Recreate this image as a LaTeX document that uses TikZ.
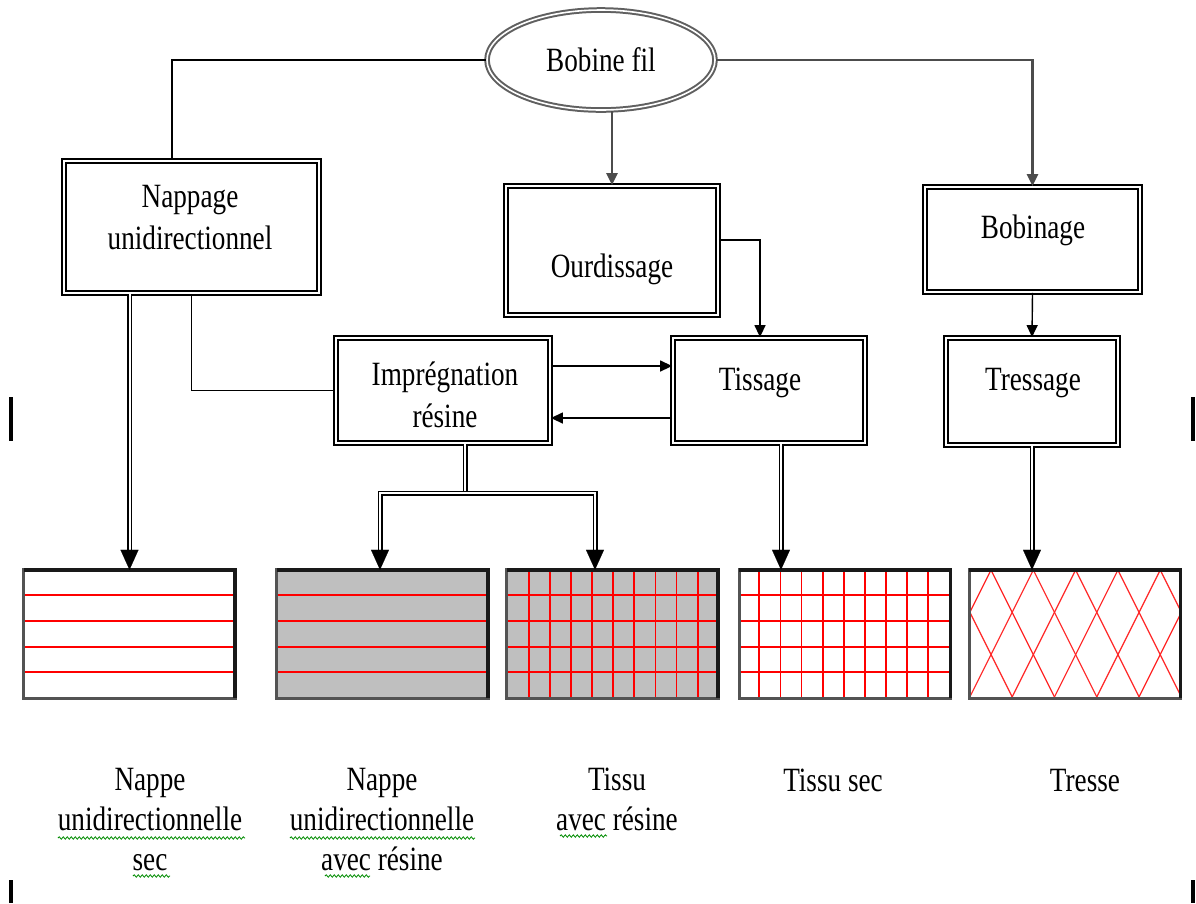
\documentclass[tikz,border=0pt]{standalone}
\usepackage{fontspec}
\setmainfont{Liberation Serif}[FakeStretch=0.8]
\usetikzlibrary{arrows.meta,shapes.geometric,decorations.pathmorphing}
\begin{document}
\begin{tikzpicture}[x=1pt,y=-1pt,
  txt/.style={font=\fontsize{34}{42}\selectfont, inner sep=0pt, align=center},
  lbl/.style={font=\fontsize{34}{40}\selectfont, inner sep=0pt, align=center},
  procbox/.style={rectangle, draw=black, line width=1.8pt, double=white, double distance=1.8pt, inner sep=0pt},
  ovalbox/.style={ellipse, draw=gray!75!black, line width=2pt, double=white, double distance=1.6pt, inner sep=0pt},
  patbox/.style={rectangle, inner sep=0pt, minimum width=211pt, minimum height=128pt},
  patedge/.style={line width=3pt, gray!65!black},
  patedgedark/.style={line width=3.5pt, black!90},
  redline/.style={red, line width=1.8pt},
  braid/.style={red!85, line width=1.2pt},
  thinline/.style={line width=1.4pt, black},
  sarrow/.style={line width=1.4pt, black, -{Triangle[length=12pt,width=11pt]}},
  grayarrow/.style={line width=2.4pt, gray!60!black, -{Triangle[length=12pt,width=11pt]}},
  dbl/.style={line width=1.5pt, black, double=white, double distance=2pt},
  dblarrow/.style={dbl, -{Triangle[length=20pt,width=18pt,line width=0.1pt]}},
  dblarrows/.style={dbl, {Triangle[length=20pt,width=18pt,line width=0.1pt]}-{Triangle[length=20pt,width=18pt,line width=0.1pt]}},
  squiggle/.style={green!55!black, line width=0.8pt, decorate, decoration={snake, segment length=4pt, amplitude=1.2pt}},
  edgemark/.style={line width=4pt, black}
]
\useasboundingbox (0,0) rectangle (1196,903);
\fill[white] (0,0) rectangle (1196,903);

% ---------- process nodes ----------
\node[ovalbox, minimum width=228pt, minimum height=100pt] (bob) at (601,60) {};
\node[txt, anchor=base] (bobt) at (601,71) {Bobine fil};

\node[procbox, minimum width=255pt, minimum height=132pt] (nap) at (191.5,227) {};
\node[txt, anchor=north] (napt) at (190,185) {Nappage\\unidirectionnel};

\node[procbox, minimum width=212pt, minimum height=129pt] (ourd) at (612,250.5) {};
\node[txt, anchor=base] (ourdt) at (612,277) {Ourdissage};

\node[procbox, minimum width=214pt, minimum height=105pt] (impr) at (443,390.5) {};
\node[txt, anchor=north] (imprt) at (445,362) {Imprégnation\\résine};

\node[procbox, minimum width=192pt, minimum height=105pt] (tiss) at (769,390.5) {};
\node[txt, anchor=base] (tisst) at (760,390) {Tissage};

\node[procbox, minimum width=215pt, minimum height=105pt] (bobn) at (1032.5,239.5) {};
\node[txt, anchor=base] (bobnt) at (1033,238) {Bobinage};

\node[procbox, minimum width=172pt, minimum height=107pt] (tres) at (1032,391.5) {};
\node[txt, anchor=base] (trest) at (1033,390) {Tressage};

% ---------- product samples ----------
\node[patbox, fill=white] (p1) at (129.5,634) {};
\node[patbox, fill=black!25] (p2) at (382.5,634) {};
\node[patbox, fill=black!25] (p3) at (612.5,634) {};
\node[patbox, fill=white] (p4) at (845,634) {};
\node[patbox, fill=white] (p5) at (1075,634) {};

\foreach \p in {p1,p2,p3,p4}{
  \foreach \yy in {25,51,77,102}{
    \draw[redline] ([yshift=-\yy pt]\p.north west) -- ([yshift=-\yy pt]\p.north east);
  }
}
\foreach \k in {1,...,9}{
  \draw[redline] ([xshift={22pt+(\k-1)*21.1pt}]p3.north west) -- ([xshift={22pt+(\k-1)*21.1pt}]p3.south west);
  \draw[redline] ([xshift={20pt+(\k-1)*21.1pt}]p4.north west) -- ([xshift={20pt+(\k-1)*21.1pt}]p4.south west);
}
\begin{scope}
  \clip (p5.north west) rectangle (p5.south east);
  \foreach \k in {-3,...,6}{
    \draw[braid] (991+42.3*\k,570) -- ++(64,128);
    \draw[braid] (991+42.3*\k,570) -- ++(-64,128);
  }
\end{scope}

\foreach \p in {p1,p2,p3,p4,p5}{
  \draw[patedge] (\p.north west) rectangle (\p.south east);
  \draw[patedgedark] (\p.north west) -- (\p.north east) -- (\p.south east);
}

% ---------- connectors ----------
\coordinate (split) at (465,493);
\coordinate (sl) at (380,493);
\coordinate (sr) at (595,493);

\draw[thinline] (bob.west) -| ([xshift=-19.5pt]nap.north);
\draw[grayarrow] (bob.east) -| (bobn.north);
\draw[grayarrow] (ourd.north |- bob.south) -- (ourd.north);
\draw[dblarrow] (p1.north |- nap.south) -- (p1.north);
\draw[thinline] (nap.south) |- (impr.west);
\draw[sarrow] ([yshift=10.5pt]ourd.east) -| ([xshift=-9pt]tiss.north);
\draw[sarrow] ([yshift=24.5pt]impr.east) -- ([yshift=24.5pt]tiss.west);
\draw[sarrow] ([yshift=-27.5pt]tiss.west) -- ([yshift=-27.5pt]impr.east);
\draw[dbl] (impr.south -| split) -- (split);
\draw[dblarrows] (p2.north -| sl) -- (sl) -- (sr) -- (p3.north -| sr);
\draw[dblarrow] ([xshift=12pt]tiss.south) -- ([xshift=12pt]tiss.south |- p4.north);
\draw[sarrow] (bobn.south) -- (tres.north);
\draw[dblarrow] (tres.south) -- (tres.south |- p5.north);

% ---------- labels ----------
\node[lbl, anchor=north] (l1) at (150,768) {Nappe\\unidirectionnelle\\sec};
\node[lbl, anchor=north] (l2) at (382,768) {Nappe\\unidirectionnelle\\avec résine};
\node[lbl, anchor=north] (l3) at (617,768) {Tissu\\avec résine};
\node[lbl, anchor=base] (l4) at (833,791) {Tissu sec};
\node[lbl, anchor=base] (l5) at (1085,791) {Tresse};

% spell-check underlines
\draw[squiggle] (58,838) -- (245,838);
\draw[squiggle] (133,876) -- (170,876);
\draw[squiggle] (290,838) -- (475,838);
\draw[squiggle] (325,876) -- (370,876);
\draw[squiggle] (560,836) -- (607,836);

% page edge marks
\draw[edgemark] (11,397) -- (11,441);
\draw[edgemark] (11,880) -- (11,903);
\draw[edgemark] (1193,397) -- (1193,441);
\draw[edgemark] (1193,880) -- (1193,903);
\end{tikzpicture}
\end{document}
